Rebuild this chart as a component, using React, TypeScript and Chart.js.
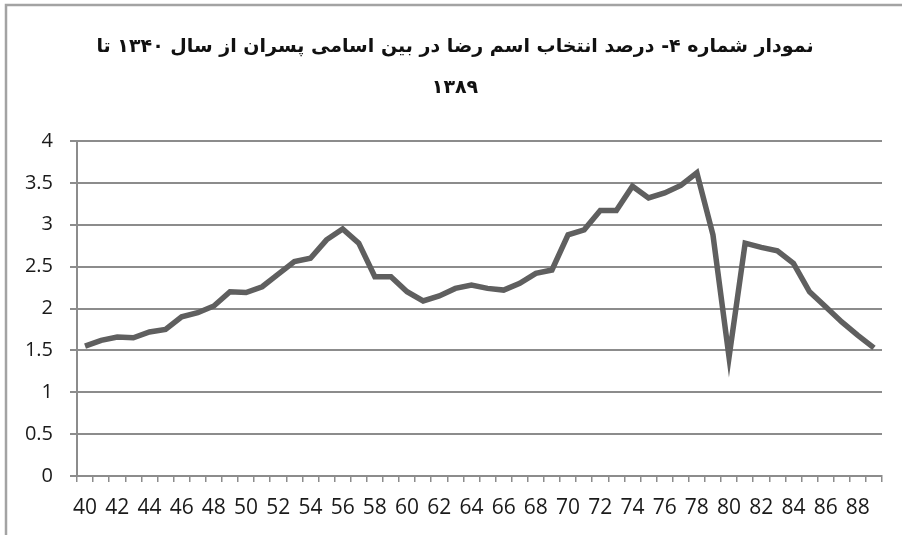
import React, { useEffect, useRef } from "react";
import { Chart, registerables } from "chart.js";

Chart.register(...registerables);

const years = [
  "40", "41", "42", "43", "44", "45", "46", "47", "48", "49",
  "50", "51", "52", "53", "54", "55", "56", "57", "58", "59",
  "60", "61", "62", "63", "64", "65", "66", "67", "68", "69",
  "70", "71", "72", "73", "74", "75", "76", "77", "78", "79",
  "80", "81", "82", "83", "84", "85", "86", "87", "88", "89",
];

const rezaPercent = [
  1.55, 1.62, 1.66, 1.65, 1.72, 1.75, 1.9, 1.95, 2.03, 2.2,
  2.19, 2.26, 2.41, 2.56, 2.6, 2.82, 2.95, 2.78, 2.38, 2.38,
  2.2, 2.09, 2.15, 2.24, 2.28, 2.24, 2.22, 2.3, 2.42, 2.46,
  2.88, 2.94, 3.17, 3.17, 3.46, 3.32, 3.38, 3.47, 3.62, 2.88,
  1.42, 2.78, 2.73, 2.69, 2.54, 2.2, 2.02, 1.84, 1.68, 1.53,
];

const titleLines = [
  "نمودار شماره ۴- درصد انتخاب اسم رضا در بین اسامی پسران از سال ۱۳۴۰ تا",
  "۱۳۸۹",
];

const yMin = 0;
const yMax = 4;
const yStep = 0.5;

const framePlugin = {
  id: "frame",
  afterLayout(chart: any) {
    const t = chart.titleBlock;
    if (t) {
      t.left += 28;
      t.width -= 28;
    }
  },
  beforeDraw(chart: any) {
    const ctx = chart.ctx;
    ctx.save();
    ctx.fillStyle = "#ffffff";
    ctx.fillRect(0, 0, chart.width, chart.height);
    ctx.strokeStyle = "#a3a3a3";
    ctx.lineWidth = 2.5;
    ctx.beginPath();
    ctx.moveTo(6, chart.height);
    ctx.lineTo(6, 5);
    ctx.lineTo(chart.width, 5);
    ctx.stroke();
    ctx.restore();
  },
};

export default function App() {
  const ref = useRef<HTMLCanvasElement>(null);

  useEffect(() => {
    if (!ref.current) return;
    const chart = new Chart(ref.current, {
      type: "line",
      data: {
        labels: years,
        datasets: [
          {
            data: rezaPercent,
            borderColor: "#5f5f5f",
            borderWidth: 5.5,
            pointRadius: 0,
            tension: 0,
            fill: false,
          },
        ],
      },
      options: {
        responsive: false,
        animation: false,
        layout: { padding: { left: 0, right: 20, top: 0, bottom: 0 } },
        plugins: {
          legend: { display: false },
          tooltip: { enabled: false },
          title: {
            display: true,
            text: titleLines,
            color: "#111111",
            font: { family: "DejaVu Sans", size: 19, weight: "bold", lineHeight: 41 / 19 },
            padding: { top: 26.5, bottom: 32.5 },
          },
        },
        scales: {
          x: {
            type: "category",
            offset: true,
            afterFit(scale: any) {
              scale.height = 59;
            },
            grid: {
              offset: true,
              drawOnChartArea: false,
              drawTicks: true,
              tickLength: 6,
              color: "#8c8c8c",
              lineWidth: 1.5,
            },
            border: { display: true, color: "#8c8c8c", width: 2 },
            ticks: {
              autoSkip: false,
              maxRotation: 0,
              minRotation: 0,
              padding: 13,
              color: "#1a1a1a",
              font: { family: "Open Sans", size: 21 },
              callback: (_v: any, i: number) => (i % 2 === 0 ? years[i] : ""),
            },
          },
          y: {
            min: yMin,
            max: yMax,
            afterFit(scale: any) {
              scale.width = 77;
            },
            grid: {
              color: "#8c8c8c",
              lineWidth: 2,
              drawTicks: true,
              tickLength: 7,
            },
            border: { display: true, color: "#8c8c8c", width: 2 },
            ticks: {
              stepSize: yStep,
              padding: 17,
              color: "#1a1a1a",
              font: { family: "Open Sans", size: 20 },
              callback: (v: any) => String(Math.round(Number(v) * 10) / 10),
            },
          },
        },
      },
      plugins: [framePlugin],
    });
    return () => chart.destroy();
  }, []);

  return (
    <div style={{ position: "absolute", left: 0, top: 0, width: 902, height: 535 }}>
      <canvas ref={ref} width={902} height={535} style={{ display: "block" }} />
    </div>
  );
}
